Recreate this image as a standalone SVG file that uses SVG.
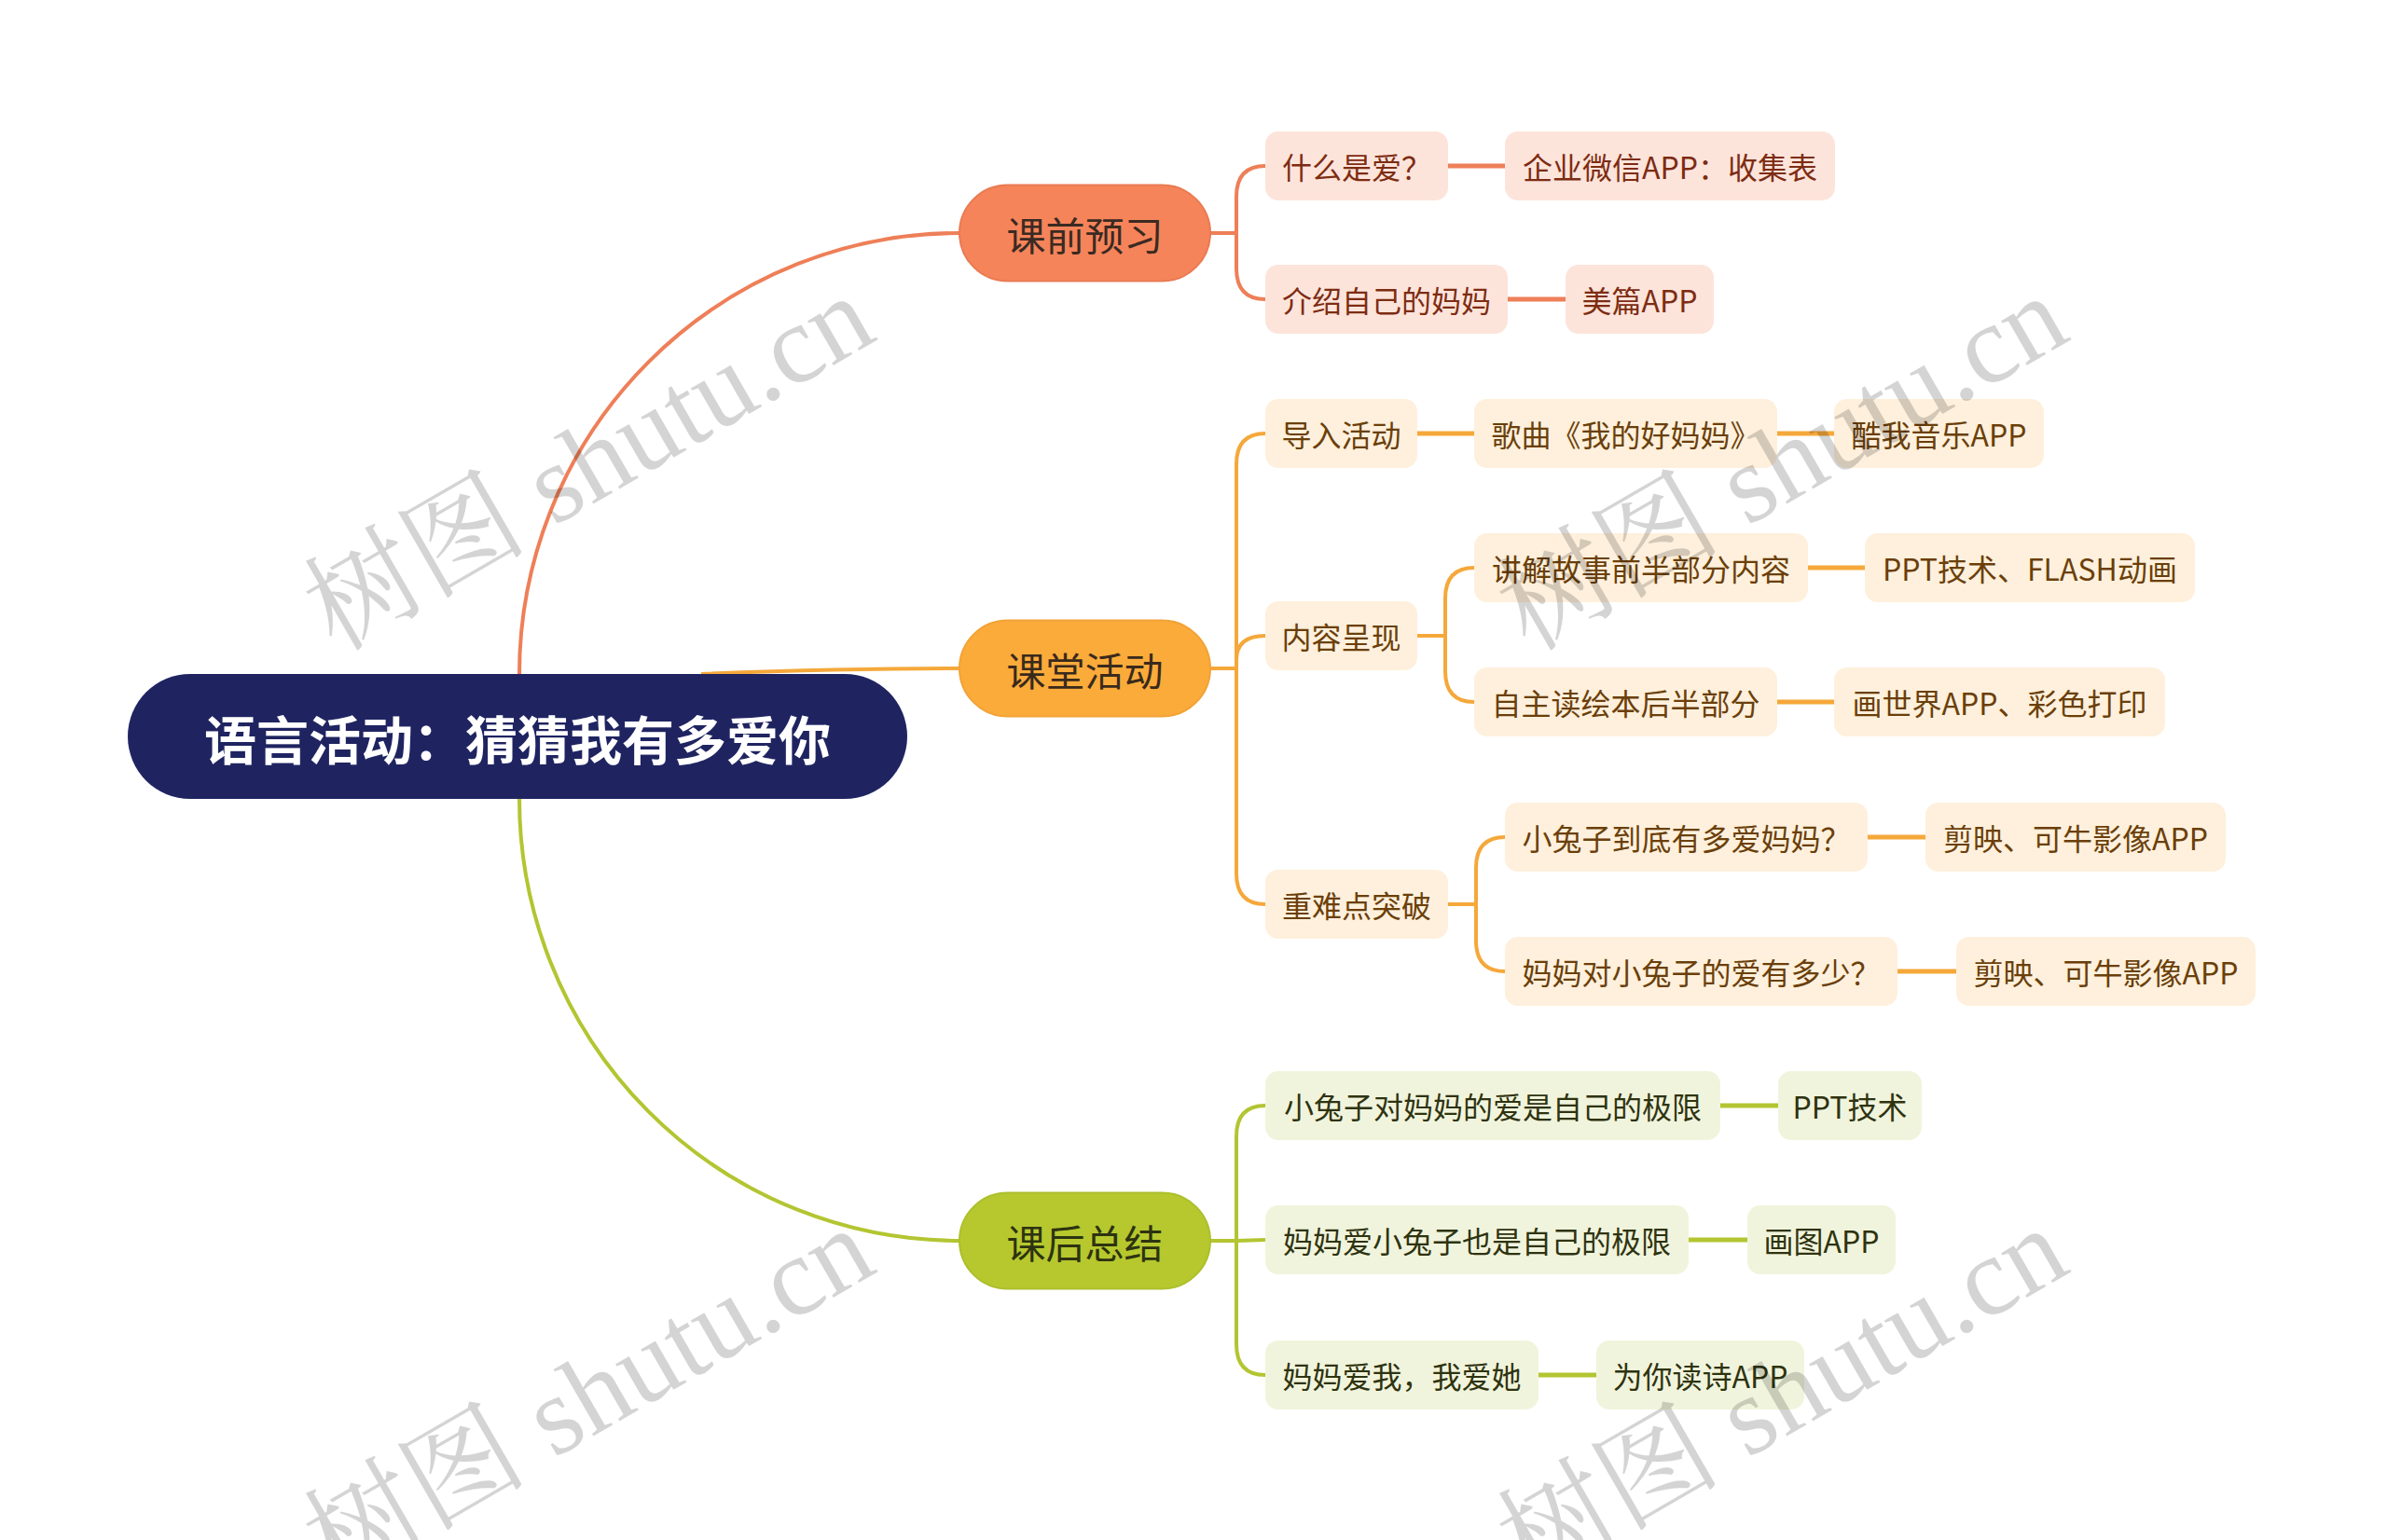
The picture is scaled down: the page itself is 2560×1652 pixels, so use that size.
<svg xmlns="http://www.w3.org/2000/svg" width="2560" height="1652" viewBox="0 0 2560 1652">
<style>
.t{font-family:"Noto Sans CJK SC","Noto Sans",sans-serif;text-anchor:middle;dominant-baseline:central}
.n2{font-size:32px}
.n1{font-size:42px}
.root{font-size:56px;font-weight:bold;fill:#ffffff}
.co{fill:none;stroke:#ee7f58;stroke-width:4}
.ca{fill:none;stroke:#f5a83a;stroke-width:4}
.cg{fill:none;stroke:#b3c531;stroke-width:4}
.thick{stroke-width:5}
.bo{fill:#fde4db}
.ba{fill:#fef0dc}
.bg{fill:#f1f4dc}
.to{fill:#7d2c12}
.ta{fill:#6b3f0a}
.tg{fill:#2e3310}
.wm{font-family:"Liberation Serif","Noto Serif CJK SC","Noto Sans CJK SC",serif;font-size:120px;fill:#000000;fill-opacity:0.17}
</style>
<rect x="0" y="0" width="2560" height="1652" fill="#ffffff"/>
<g id="connectors">
<path class="co" d="M557,723 A472,473 0 0 1 1029,250"/>
<path class="ca" d="M752,723 C850,719 920,717 1029,717"/>
<path class="cg" d="M557,857 A472,474 0 0 0 1029,1331"/>
<path class="co" d="M1298,250 H1326 V211 Q1326,178 1357,178"/>
<path class="co" d="M1298,250 H1326 V288 Q1326,321 1357,321"/>
<path class="ca" d="M1298,717 H1326 V498 Q1326,465 1357,465"/>
<path class="ca" d="M1298,717 H1326 V708 Q1326,682 1357,682"/>
<path class="ca" d="M1298,717 H1326 V937 Q1326,970 1357,970"/>
<path class="cg" d="M1298,1331 H1326 V1219 Q1326,1186 1357,1186"/>
<path class="cg" d="M1298,1331 H1326 L1357,1330"/>
<path class="cg" d="M1298,1331 H1326 V1442 Q1326,1475 1357,1475"/>
<path class="ca" d="M1520,682 H1550 V642 Q1550,609 1581,609"/>
<path class="ca" d="M1520,682 H1550 V720 Q1550,753 1581,753"/>
<path class="ca" d="M1553,970 H1583 V931 Q1583,898 1614,898"/>
<path class="ca" d="M1553,970 H1583 V1009 Q1583,1042 1614,1042"/>
<path class="co thick" d="M1553,178 H1614"/>
<path class="co thick" d="M1617,321 H1679"/>
<path class="ca thick" d="M1520,465 H1581"/>
<path class="ca thick" d="M1906,465 H1967"/>
<path class="ca thick" d="M1939,609 H2000"/>
<path class="ca thick" d="M1906,753 H1967"/>
<path class="ca thick" d="M2003,898 H2065"/>
<path class="ca thick" d="M2035,1042 H2098"/>
<path class="cg thick" d="M1845,1186 H1907"/>
<path class="cg thick" d="M1811,1330 H1874"/>
<path class="cg thick" d="M1650,1475 H1712"/>
</g>
<g id="root">
<rect x="137" y="723" width="836" height="134" rx="67" fill="#1f2461"/>
<text class="t root" x="555" y="790">语言活动：猜猜我有多爱你</text>
</g>
<g id="n-kqyx">
<rect x="1029" y="198.5" width="269" height="103" rx="51.5" fill="#f5845a" stroke="#ea7a52" stroke-width="2"/>
<text class="t n1" x="1163.5" y="250" fill="#3a2a22">课前预习</text>
</g>
<g id="n-ktdh">
<rect x="1029" y="665.5" width="269" height="103" rx="51.5" fill="#fbab3a" stroke="#f2a236" stroke-width="2"/>
<text class="t n1" x="1163.5" y="717" fill="#3a2a1c">课堂活动</text>
</g>
<g id="n-khzj">
<rect x="1029" y="1279.5" width="269" height="103" rx="51.5" fill="#b6c82e" stroke="#adbf2c" stroke-width="2"/>
<text class="t n1" x="1163.5" y="1331" fill="#2d3310">课后总结</text>
</g>
<g id="n-a1"><rect class="bo" x="1357" y="141" width="196" height="74" rx="14"/><text class="t n2 to" x="1455" y="178">什么是爱？</text></g>
<g id="n-a1a"><rect class="bo" x="1614" y="141" width="354" height="74" rx="14"/><text class="t n2 to" x="1791" y="178">企业微信APP：收集表</text></g>
<g id="n-a2"><rect class="bo" x="1357" y="284" width="260" height="74" rx="14"/><text class="t n2 to" x="1487" y="321">介绍自己的妈妈</text></g>
<g id="n-a2a"><rect class="bo" x="1679" y="284" width="159" height="74" rx="14"/><text class="t n2 to" x="1758.5" y="321">美篇APP</text></g>
<g id="n-b1"><rect class="ba" x="1357" y="428" width="163" height="74" rx="14"/><text class="t n2 ta" x="1438.5" y="465">导入活动</text></g>
<g id="n-b1a"><rect class="ba" x="1581" y="428" width="325" height="74" rx="14"/><text class="t n2 ta" x="1743.5" y="465">歌曲《我的好妈妈》</text></g>
<g id="n-b1b"><rect class="ba" x="1967" y="428" width="225" height="74" rx="14"/><text class="t n2 ta" x="2079.5" y="465">酷我音乐APP</text></g>
<g id="n-b2"><rect class="ba" x="1357" y="645" width="163" height="74" rx="14"/><text class="t n2 ta" x="1438.5" y="682">内容呈现</text></g>
<g id="n-b2a"><rect class="ba" x="1581" y="572" width="358" height="74" rx="14"/><text class="t n2 ta" x="1760" y="609">讲解故事前半部分内容</text></g>
<g id="n-b2a1"><rect class="ba" x="2000" y="572" width="354" height="74" rx="14"/><text class="t n2 ta" x="2177" y="609">PPT技术、FLASH动画</text></g>
<g id="n-b2b"><rect class="ba" x="1581" y="716" width="325" height="74" rx="14"/><text class="t n2 ta" x="1743.5" y="753">自主读绘本后半部分</text></g>
<g id="n-b2b1"><rect class="ba" x="1967" y="716" width="355" height="74" rx="14"/><text class="t n2 ta" x="2144.5" y="753">画世界APP、彩色打印</text></g>
<g id="n-b3"><rect class="ba" x="1357" y="933" width="196" height="74" rx="14"/><text class="t n2 ta" x="1455" y="970">重难点突破</text></g>
<g id="n-b3a"><rect class="ba" x="1614" y="861" width="389" height="74" rx="14"/><text class="t n2 ta" x="1808.5" y="898">小兔子到底有多爱妈妈？</text></g>
<g id="n-b3a1"><rect class="ba" x="2065" y="861" width="322" height="74" rx="14"/><text class="t n2 ta" x="2226" y="898">剪映、可牛影像APP</text></g>
<g id="n-b3b"><rect class="ba" x="1614" y="1005" width="421" height="74" rx="14"/><text class="t n2 ta" x="1824.5" y="1042">妈妈对小兔子的爱有多少？</text></g>
<g id="n-b3b1"><rect class="ba" x="2098" y="1005" width="321" height="74" rx="14"/><text class="t n2 ta" x="2258.5" y="1042">剪映、可牛影像APP</text></g>
<g id="n-c1"><rect class="bg" x="1357" y="1149" width="488" height="74" rx="14"/><text class="t n2 tg" x="1601" y="1186">小兔子对妈妈的爱是自己的极限</text></g>
<g id="n-c1a"><rect class="bg" x="1907" y="1149" width="154" height="74" rx="14"/><text class="t n2 tg" x="1984" y="1186">PPT技术</text></g>
<g id="n-c2"><rect class="bg" x="1357" y="1293" width="454" height="74" rx="14"/><text class="t n2 tg" x="1584" y="1330">妈妈爱小兔子也是自己的极限</text></g>
<g id="n-c2a"><rect class="bg" x="1874" y="1293" width="159" height="74" rx="14"/><text class="t n2 tg" x="1953.5" y="1330">画图APP</text></g>
<g id="n-c3"><rect class="bg" x="1357" y="1438" width="293" height="74" rx="14"/><text class="t n2 tg" x="1503.5" y="1475">妈妈爱我，我爱她</text></g>
<g id="n-c3a"><rect class="bg" x="1712" y="1438" width="223" height="74" rx="14"/><text class="t n2 tg" x="1823.5" y="1475">为你读诗APP</text></g>
<g id="watermark">
<text class="wm" transform="translate(360,700) rotate(-30)">树图 shutu.cn</text>
<text class="wm" transform="translate(1640,700) rotate(-30)">树图 shutu.cn</text>
<text class="wm" transform="translate(360,1700) rotate(-30)">树图 shutu.cn</text>
<text class="wm" transform="translate(1640,1700) rotate(-30)">树图 shutu.cn</text>
</g>
</svg>
